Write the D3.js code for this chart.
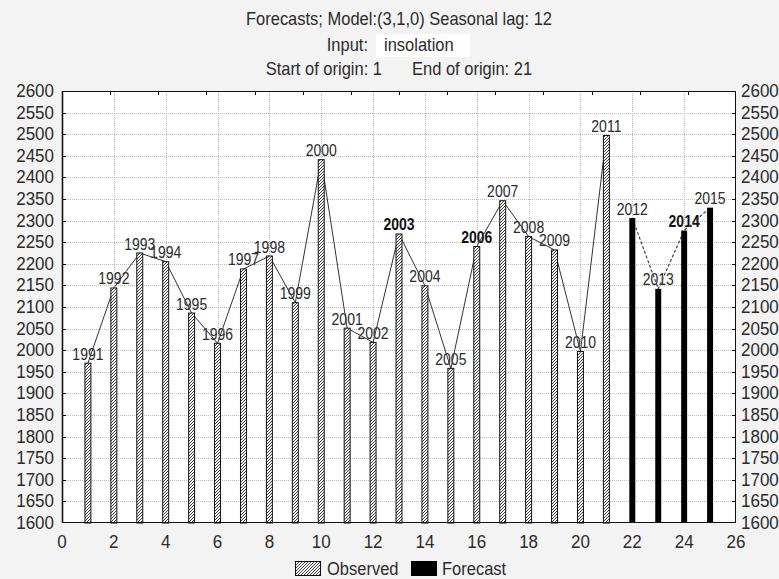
<!DOCTYPE html>
<html><head><meta charset="utf-8">
<script src="https://cdn.jsdelivr.net/npm/d3@7"></script>
<style>body{margin:0;background:#f3f3f3}svg{display:block}text{white-space:pre}</style>
</head><body>
<script>
// ---- data ----
const observedX = [1,2,3,4,5,6,7,8,9,10,11,12,13,14,15,16,17,18,19,20,21];
const observedValues = [1970,2144,2225,2205,2086,2016,2188,2218,2110,2441,2051,2018,2269,2149,1958,2240,2346,2263,2232,1997,2497];
const observedYears = [1991,1992,1993,1994,1995,1996,1997,1998,1999,2000,2001,2002,2003,2004,2005,2006,2007,2008,2009,2010,2011];
const forecastX = [22,23,24,25];
const forecastValues = [2306,2142,2277,2330];
const forecastYears = [2012,2013,2014,2015];
const boldYears = [2003,2006,2014];
const xTicks = [0,2,4,6,8,10,12,14,16,18,20,22,24,26];
const yTicks = [1600,1650,1700,1750,1800,1850,1900,1950,2000,2050,2100,2150,2200,2250,2300,2350,2400,2450,2500,2550,2600];
const titleLine1 = "Forecasts; Model:(3,1,0) Seasonal lag: 12";
const titleLine2 = ["Input:", "insolation"];
const titleLine3 = ["Start of origin: 1", "End of origin: 21"];
const legendLabels = ["Observed", "Forecast"];

// ---- layout ----
const W = 779, H = 579;
const L = 62, R = 736, T = 91, B = 523;
const x = d3.scaleLinear().domain([0,26]).range([L,R]);
const y = d3.scaleLinear().domain([1600,2600]).range([B,T]);
const topScale = d3.scaleLinear().domain([0,14]).range([L,R]);
const barW = x(0.23) - x(0);
const FONT = "'Liberation Sans', Arial, sans-serif";
const TXT = "#2b2b2b";

const svg = d3.select("body").append("svg").attr("width",W).attr("height",H);
const defs = svg.append("defs");
const pat = defs.append("pattern").attr("id","hatch").attr("patternUnits","userSpaceOnUse")
  .attr("width",3).attr("height",3);
pat.append("rect").attr("width",3).attr("height",3).attr("fill","#fff");
pat.append("path").attr("d","M-1,1 L1,-1 M0,3 L3,0 M2,4 L4,2").attr("stroke","#222").attr("stroke-width",0.9);

svg.append("rect").attr("width",W).attr("height",H).attr("fill","#f3f3f3");

function txt(g, px, py, s, o={}) {
  return g.append("text")
    .attr("transform",`translate(${px},${py}) scale(1,${o.sy||1.08})`)
    .attr("text-anchor",o.anchor||"middle")
    .attr("font-family",FONT).attr("font-size",o.size||16.5)
    .attr("font-weight",o.weight||"normal")
    .attr("fill",o.fill||TXT).text(s);
}

// ---- titles ----
const cx = (L+R)/2;
svg.append("rect").attr("x",376).attr("y",34).attr("width",94).attr("height",23).attr("fill","#fff");
txt(svg, cx, 25, titleLine1);
txt(svg, 368, 51, titleLine2[0], {anchor:"end"});
txt(svg, 384, 51, titleLine2[1], {anchor:"start"});
txt(svg, 382, 75, titleLine3[0], {anchor:"end"});
txt(svg, 412, 75, titleLine3[1], {anchor:"start"});

// ---- plot area ----
svg.append("rect").attr("x",L).attr("y",T).attr("width",R-L).attr("height",B-T).attr("fill","#fff");

// grid
const grid = svg.append("g").attr("stroke","#bdbdbd").attr("stroke-width",1).attr("stroke-dasharray","1,1");
grid.selectAll("line.h").data(yTicks.slice(1,-1)).join("line")
  .attr("x1",L).attr("x2",R).attr("y1",d=>Math.round(y(d))+0.5).attr("y2",d=>Math.round(y(d))+0.5);
grid.selectAll("line.v").data(xTicks.slice(1,-1)).join("line")
  .attr("y1",T).attr("y2",B).attr("x1",d=>Math.round(x(d))+0.5).attr("x2",d=>Math.round(x(d))+0.5);

// year labels
const obsData = observedX.map((d,i)=>({x:d, v:observedValues[i], yr:observedYears[i]}));
const fcData = forecastX.map((d,i)=>({x:d, v:forecastValues[i], yr:forecastYears[i]}));
const labG = svg.append("g");
obsData.concat(fcData).forEach(d=>{
  txt(labG, x(d.x), y(d.v)-3.5, d.yr, {size:14, sy:1.12, weight: boldYears.includes(d.yr)?"bold":"normal", fill: boldYears.includes(d.yr)?"#111":TXT});
});

// lines
const line = d3.line().x(d=>x(d.x)).y(d=>y(d.v));
svg.append("path").datum(obsData).attr("d",line).attr("fill","none").attr("stroke","#333").attr("stroke-width",1);
svg.append("path").datum(fcData).attr("d",line).attr("fill","none").attr("stroke","#444").attr("stroke-width",1.2).attr("stroke-dasharray","3,2");

// bars
svg.append("g").selectAll("rect").data(obsData).join("rect")
  .attr("x",d=>x(d.x)-barW/2).attr("width",barW)
  .attr("y",d=>y(d.v)).attr("height",d=>y(1600)-y(d.v))
  .attr("fill","url(#hatch)").attr("stroke","#111").attr("stroke-width",1);
svg.append("g").selectAll("rect").data(fcData).join("rect")
  .attr("x",d=>x(d.x)-barW/2).attr("width",barW)
  .attr("y",d=>y(d.v)).attr("height",d=>y(1600)-y(d.v))
  .attr("fill","#000");

// frame
svg.append("rect").attr("x",L+0.5).attr("y",T+0.5).attr("width",R-L-1).attr("height",B-T-1)
  .attr("fill","none").attr("stroke","#111").attr("stroke-width",1);
svg.append("line").attr("x1",L+0.5).attr("x2",L+0.5).attr("y1",T).attr("y2",B).attr("stroke","#111").attr("stroke-width",1.6);

// ticks
const tk = svg.append("g").attr("stroke","#111").attr("stroke-width",1);
tk.selectAll("line.l").data(yTicks.slice(1,-1)).join("line")
  .attr("x1",L).attr("x2",L+4).attr("y1",d=>Math.round(y(d))+0.5).attr("y2",d=>Math.round(y(d))+0.5);
tk.selectAll("line.r").data(yTicks.slice(1,-1)).join("line")
  .attr("x1",R-4).attr("x2",R).attr("y1",d=>Math.round(y(d))+0.5).attr("y2",d=>Math.round(y(d))+0.5);
tk.selectAll("line.t").data(d3.range(1,14)).join("line")
  .attr("y1",T).attr("y2",T+4).attr("x1",d=>Math.round(topScale(d))+0.5).attr("x2",d=>Math.round(topScale(d))+0.5);

// tick labels
yTicks.forEach(v=>{
  txt(svg, L-8, y(v)+6, v, {anchor:"end", size:17, sy:1.05});
  txt(svg, R+5, y(v)+6, v, {anchor:"start", size:17, sy:1.05});
});
xTicks.forEach(v=>{
  txt(svg, x(v), B+25, v, {size:17, sy:1.05});
});

// legend
const lg = svg.append("g");
lg.append("rect").attr("x",295.5).attr("y",561.5).attr("width",25).attr("height",14).attr("fill","url(#hatch)").attr("stroke","#111");
txt(lg, 327, 575, legendLabels[0], {anchor:"start"});
lg.append("rect").attr("x",411).attr("y",561).attr("width",26).attr("height",15).attr("fill","#000");
txt(lg, 442, 575, legendLabels[1], {anchor:"start"});
</script>
</body></html>
